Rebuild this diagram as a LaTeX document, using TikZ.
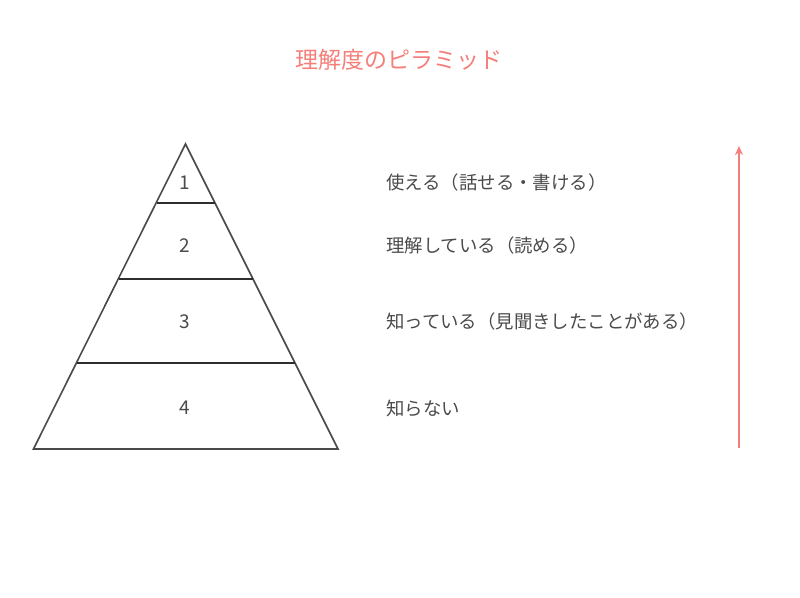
\documentclass[tikz,border=0pt]{standalone}
\usepackage{fontspec}
\setmainfont{Noto Sans CJK JP}
\usetikzlibrary{arrows.meta}
\definecolor{ink}{HTML}{4A4A4A}
\definecolor{rule}{HTML}{2E2E2E}
\definecolor{coral}{HTML}{F47F7A}
\tikzset{
  edge/.style={draw=ink, line width=1.6pt},
  tier/.style={draw=rule, line width=2pt},
  num/.style={text=ink, font=\fontsize{19}{22}\selectfont, inner sep=0pt},
  lab/.style={text=ink, font=\fontsize{18.4}{22}\selectfont, anchor=west, inner sep=0pt},
  ttl/.style={text=coral, font=\fontsize{23}{27}\selectfont, inner sep=0pt},
  up/.style={draw=coral, line width=1.4pt, -{Stealth[length=9pt,width=8pt]}}
}
\begin{document}
\begin{tikzpicture}[x=1pt,y=-1pt]
\useasboundingbox (0,0) rectangle (800,597);
\coordinate (apex) at (185.5,144);
\coordinate (bl) at (33.5,449);
\coordinate (br) at (338,449);
\coordinate (l1a) at (156.5,202.5);
\coordinate (l1b) at (214.5,202.5);
\coordinate (l2a) at (118.5,278.5);
\coordinate (l2b) at (252.5,278.5);
\coordinate (l3a) at (77,362.5);
\coordinate (l3b) at (294.5,362.5);
\draw[edge, line join=miter] (apex) -- (br) -- (bl) -- cycle;
\draw[tier] (l1a) -- (l1b);
\draw[tier] (l2a) -- (l2b);
\draw[tier] (l3a) -- (l3b);
\node[num] (n1) at (185,183) {1};
\node[num] (n2) at (185,246) {2};
\node[num] (n3) at (185,322) {3};
\node[num] (n4) at (185,408) {4};
\node[lab] (t1) at (386,183) {使える（話せる・書ける）};
\node[lab] (t2) at (386,246) {理解している（読める）};
\node[lab] (t3) at (386,322) {知っている（見聞きしたことがある）};
\node[lab] (t4) at (386,408) {知らない};
\node[ttl] (title) at (399,60) {理解度のピラミッド};
\coordinate (a0) at (739,448);
\coordinate (a1) at (739,146);
\draw[up] (a0) -- (a1);
\end{tikzpicture}
\end{document}
